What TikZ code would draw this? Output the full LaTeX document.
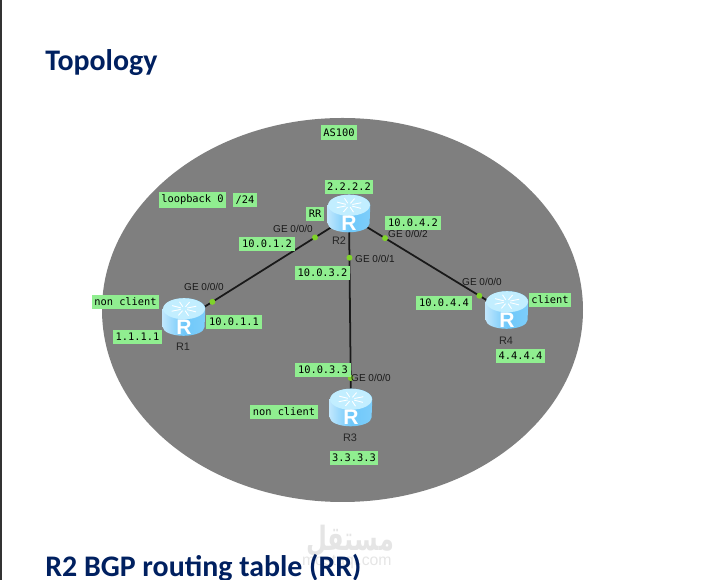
\documentclass[tikz,border=0pt]{standalone}
\usepackage{graphicx}
\usepackage{fontspec}
\setmainfont{Liberation Sans}
\setmonofont{DejaVu Sans Mono}
\newfontfamily\titlefont{Carlito}
\newfontfamily\arabicfont[Script=Arabic]{DejaVu Sans}
\TeXXeTstate=1
\usetikzlibrary{backgrounds}

\definecolor{tagGreen}{HTML}{90EE90}
\definecolor{portGreen}{HTML}{7FD32A}
\definecolor{areaGray}{HTML}{7F7F7F}
\definecolor{titleBlue}{HTML}{002060}
\definecolor{routerLight}{HTML}{C2EEFF}
\definecolor{routerSide}{HTML}{6FC8FA}

\tikzset{
    tag/.style = {fill=tagGreen, inner sep=1.5pt, minimum height=8pt, font=\ttfamily\fontsize{5.9}{7}\selectfont, text=black},
    ifname/.style = {inner sep=0pt, font=\fontsize{5.7}{7}\selectfont, text=black!90},
    hostname/.style = {inner sep=0pt, font=\fontsize{6.2}{7}\selectfont, text=black!85},
    router/.style = {inner sep=0pt, minimum width=23.8pt, minimum height=21pt},
    routerletter/.style = {inner sep=0pt, text=white, font=\bfseries\fontsize{12}{12}\selectfont},
    link/.style = {black!90, line width=1pt},
    port/.style = {circle, fill=portGreen, inner sep=0pt, minimum size=3.4pt},
    heading/.style = {anchor=base west, inner sep=0pt, text=titleBlue, font=\titlefont\bfseries\fontsize{17}{19}\selectfont},
}

\begin{document}
\begin{tikzpicture}[x=0.02cm, y=-0.02cm]
    \def \dy {-1.5pt}
    \useasboundingbox (0,0) rectangle (701,580);
    \clip (0,0) rectangle (701,580);

    % routers
    \node[router] (r1) at (184,317) {};
    \node[router] (r2) at (349,213.5) {};
    \node[router] (r3) at (351,407.5) {};
    \node[router] (r4) at (507,310) {};

    \foreach \r in {r1, r2, r3, r4} {
        \shade[left color=routerSide!45!white, right color=routerSide!90!white, middle color=routerSide]
            ([yshift=-6pt]\r.north west) -- ([yshift=5pt]\r.south west)
            arc[start angle=180, end angle=360, x radius=11.9pt, y radius=5pt]
            -- ([yshift=-6pt]\r.north east)
            arc[start angle=0, end angle=180, x radius=11.9pt, y radius=6pt] -- cycle;
        \fill[routerLight] ([yshift=-6pt]\r.north) ellipse (11.9pt and 6pt);
        \foreach \a in {20, 65, ..., 335}
            \draw[white, line width=0.5pt] ([yshift=-6pt]\r.north) ++(\a:2pt and 1.2pt) -- ++(\a:5.5pt and 3pt);
        \node[routerletter] (\r letter) at ([yshift=-5.6pt]\r.center) {R};
    }

    % page edge, AS area and links go below the routers
    \begin{scope}[on background layer]
        \fill[black!80] (0,0) rectangle (2.5,580);
        \fill[areaGray] (342.5,310) ellipse (240.5 and 192);

        \draw[link] ([yshift=\dy]r1.center) -- ([yshift=\dy]r2.center)
            node[port, pos=0.172] (p1) {}
            node[port, pos=0.794] (p2a) {};
        \draw[link] (r2.center) -- (r3.center)
            node[port, pos=0.228] (p2b) {}
            node[port, pos=0.848] (p3) {};
        \draw[link] ([yshift=\dy]r2.center) -- ([yshift=\dy]r4.center)
            node[port, pos=0.228] (p2c) {}
            node[port, pos=0.825] (p4) {};
    \end{scope}

    % interface names
    \foreach \n/\x/\y/\t in {ge1/204/287/{GE 0/0/0}, ge2a/293/229/{GE 0/0/0},
                             ge2b/375/259/{GE 0/0/1}, ge2c/408/234/{GE 0/0/2},
                             ge3/371/378/{GE 0/0/0}, ge4/482/282/{GE 0/0/0}}
        \node[ifname] (\n) at (\x,\y) {\t};

    % router names
    \foreach \n/\x/\y/\t in {n1/183/347/R1, n2/339/241/R2, n3/350/438/R3, n4/506/341/R4}
        \node[hostname] (\n) at (\x,\y) {\t};

    % green tags
    \foreach \n/\x/\y/\t in {as/339/132.5/AS100, lo/192.5/200/loopback 0, mask/245/200/{/24}, rr/315/214/RR,
                             l2/349/187/2.2.2.2, l1/137.5/337/1.1.1.1, l3/354/458/3.3.3.3, l4/520.5/356/4.4.4.4,
                             a12/267/244/10.0.1.2, a11/234/322/10.0.1.1, a32/322.5/273/10.0.3.2, a33/323/370/10.0.3.3,
                             a42/413/223/10.0.4.2, a44/444/303/10.0.4.4,
                             c1/125.5/302/non client, c3/284/412/non client, c4/550/300/client}
        \node[tag] (\n) at (\x,\y) {\t};

    % watermark
    \node[inner sep=0pt, text=black!10, font=\arabicfont\bfseries\fontsize{19}{19}\selectfont] (mark) at (350,541) {\scalebox{0.72}[1]{\beginR مستقل\endR}};
    \node[anchor=east, inner sep=0pt, text=black!10, font=\fontsize{9}{9}\selectfont] (site) at (392,561) {mostaql.com};

    % headings
    \node[heading] (top) at (45,71) {Topology};
    \node[heading] (tab) at (45,577) {R2 BGP routing table (RR)};
\end{tikzpicture}
\end{document}
